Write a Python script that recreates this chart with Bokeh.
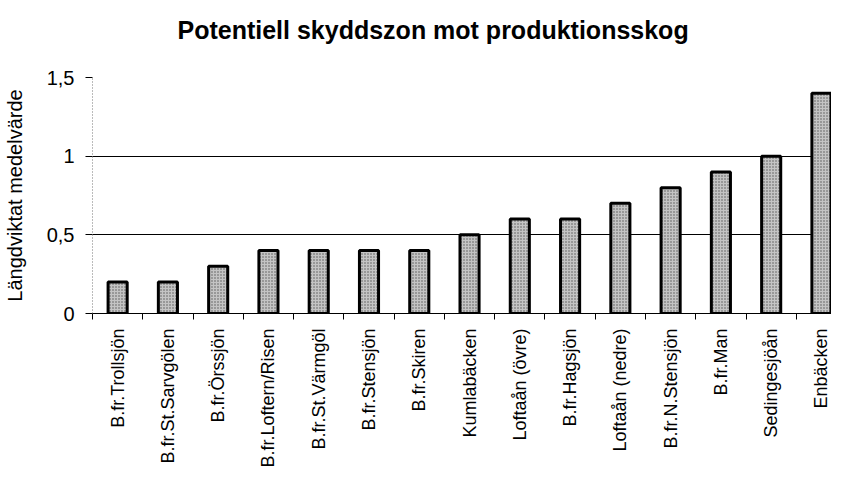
import math
from bokeh.plotting import figure
from bokeh.models import Range1d, FixedTicker, ColumnDataSource, Title
from bokeh.embed import file_html
from bokeh.resources import INLINE

categories = ["B.fr.Trollsjön", "B.fr.St.Sarvgölen", "B.fr.Örssjön", "B.fr.Loftern/Risen",
              "B.fr.St.Värmgöl", "B.fr.Stensjön", "B.fr.Skiren", "Kumlabäcken",
              "Loftaån (övre)", "B.fr.Hagsjön", "Loftaån (nedre)", "B.fr.N.Stensjön",
              "B.fr.Man", "Sedingesjöån", "Enbäcken"]
values = [0.2, 0.2, 0.3, 0.4, 0.4, 0.4, 0.4, 0.5, 0.6, 0.6, 0.7, 0.8, 0.9, 1.0, 1.4]
y_ticks = [0, 0.5, 1, 1.5]
y_tick_labels = ["0", "0,5", "1", "1,5"]
title_text = "Potentiell skyddszon mot produktionsskog"
y_label = "Längdviktat medelvärde"

x_pos = [i + 0.5 for i in range(len(categories))]
boundaries = list(range(len(categories) + 1))
source = ColumnDataSource(dict(x=x_pos, top=values, name=categories))

FONT = "Liberation Sans"

p = figure(width=831, height=470, output_backend="svg", toolbar_location=None,
           x_range=Range1d(0, 14.7), y_range=Range1d(0, 1.5),
           min_border=0, min_border_left=0, min_border_right=0, min_border_top=0,
           min_border_bottom=0)

p.vbar(x="x", top="top", bottom=0, width=0.38, source=source,
       fill_color="#c4c4c4", line_color="black", line_width=3,
       hatch_pattern="dot", hatch_color="#555555", hatch_scale=3, hatch_weight=1)

# spacer between title and plot area (nearest the frame), then the title
spacer = Title(text=" ", text_font_size="1px", standoff=18)
p.add_layout(spacer, "above")
main_title = Title(text=title_text, text_font=FONT, text_font_style="bold",
                   text_font_size="25px", align="left", offset=85, standoff=26,
                   text_color="black")
p.add_layout(main_title, "above")

# x axis
xa = p.xaxis[0]
xa.ticker = FixedTicker(ticks=x_pos, minor_ticks=boundaries)
xa.major_label_overrides = {x: n for x, n in zip(x_pos, categories)}
xa.major_label_orientation = math.pi / 2
xa.major_tick_line_color = None
xa.major_tick_out = 0
xa.major_tick_in = 0
xa.minor_tick_out = 6
xa.minor_tick_in = 0
xa.minor_tick_line_color = "black"
xa.axis_line_color = "black"
xa.major_label_standoff = 9
xa.major_label_text_font = FONT
xa.major_label_text_font_size = "18px"
xa.major_label_text_color = "black"

# y axis
ya = p.yaxis[0]
ya.ticker = FixedTicker(ticks=y_ticks, minor_ticks=[])
ya.major_label_overrides = {t: l for t, l in zip(y_ticks, y_tick_labels)}
ya.major_tick_out = 7
ya.major_tick_in = 0
ya.major_tick_line_color = "black"
ya.minor_tick_line_color = None
ya.axis_line_color = "#777777"
ya.axis_line_dash = "1 2"
ya.major_label_standoff = 11
ya.major_label_text_font = FONT
ya.major_label_text_font_size = "20px"
ya.major_label_text_color = "black"
ya.axis_label = y_label
ya.axis_label_text_font = FONT
ya.axis_label_text_font_size = "20px"
ya.axis_label_text_font_style = "normal"
ya.axis_label_text_color = "black"
ya.axis_label_standoff = 18

p.xgrid.grid_line_color = None
p.ygrid.grid_line_color = "black"
p.ygrid.grid_line_width = 1
p.outline_line_color = None
p.background_fill_color = "white"
p.border_fill_color = "white"

open("out.html", "w").write(file_html(p, INLINE))
